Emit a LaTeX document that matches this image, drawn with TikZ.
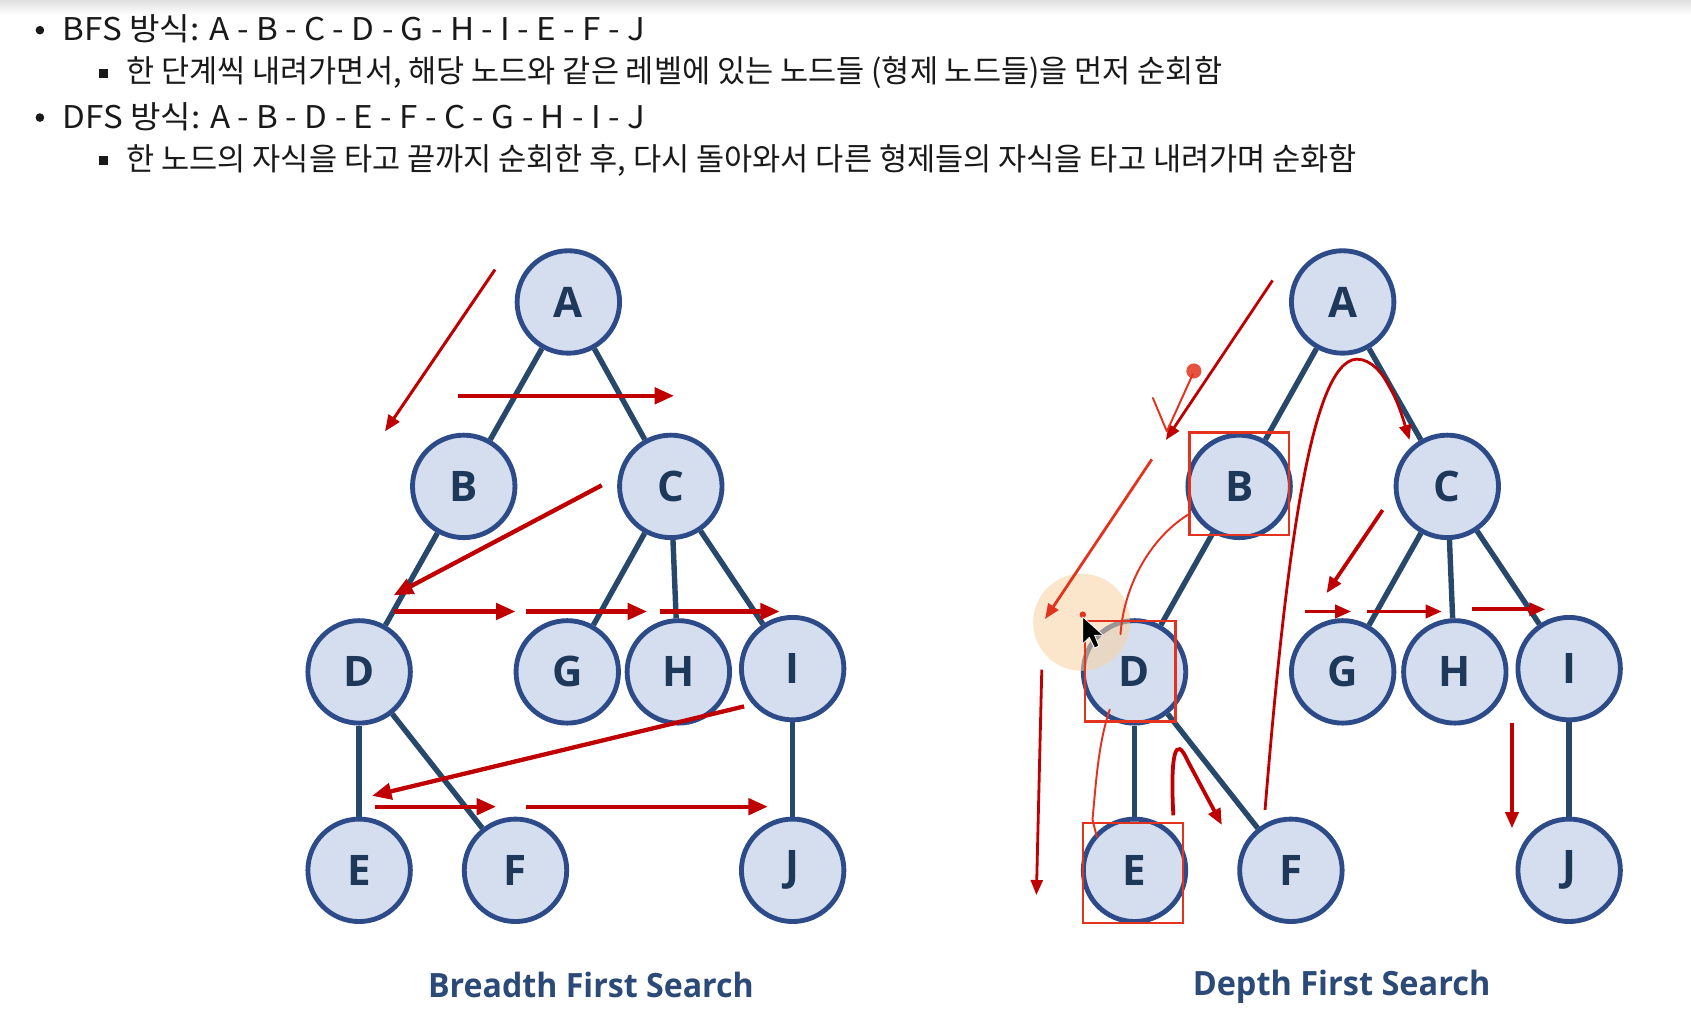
\documentclass[tikz,border=0pt]{standalone}
\usepackage{fontspec}
\setmainfont{Open Sans}
\newfontfamily\kr{Noto Sans CJK KR}
\usetikzlibrary{arrows.meta,backgrounds}
\definecolor{nodefill}{HTML}{D5DEEF}
\definecolor{nodeline}{HTML}{2C4B88}
\definecolor{edgecol}{HTML}{27486B}
\definecolor{lettercol}{HTML}{1E3859}
\definecolor{titlecol}{HTML}{2B4A78}
\definecolor{arrred}{HTML}{C00000}
\definecolor{penred}{HTML}{E3321E}
\definecolor{glow}{HTML}{F9D3A2}
\begin{document}
\begin{tikzpicture}[x=1pt,y=-1pt,
  tnode/.style={circle, draw=nodeline, line width=4.5pt, fill=nodefill, minimum size=95pt, inner sep=0pt, text=lettercol, font=\fontsize{39}{40}\selectfont\bfseries},
  tedge/.style={draw=edgecol, line width=5pt},
  bfsarrow/.style={draw=arrred, line width=4pt, -{Triangle[length=18pt,width=15pt]}},
  bfsthin/.style={draw=arrred, line width=2.8pt, -{Triangle[length=15pt,width=12pt]}},
  dfsarrow/.style={draw=arrred, line width=3.5pt, -{Triangle[length=15pt,width=12pt]}},
  dfsthin/.style={draw=arrred, line width=2.6pt, -{Triangle[length=14pt,width=11pt]}},
  pen/.style={draw=penred, line width=1.8pt, line cap=round, line join=round},
  redbox/.style={draw=penred, line width=2pt},
  hdr/.style={anchor=west, inner sep=0pt, text=black!90},
  ttl/.style={inner sep=0pt, text=titlecol, font=\fontsize{31}{32}\selectfont\bfseries}
]
\useasboundingbox (0,0) rectangle (1568,953);

% header
\fill[black!90] (37,28) circle (4);
\node[hdr] (h1) at (58,27) {\resizebox{540pt}{\height}{\kr\fontsize{29}{32}\selectfont BFS 방식: A - B - C - D - G - H - I - E - F - J}};
\fill[black!90] (92,64) rectangle (100,72);
\node[hdr] (h2) at (117,67) {\resizebox{1016pt}{\height}{\kr\fontsize{29}{32}\selectfont 한 단계씩 내려가면서, 해당 노드와 같은 레벨에 있는 노드들 (형제 노드들)을 먼저 순회함}};
\fill[black!90] (37,109) circle (4);
\node[hdr] (h3) at (58,108) {\resizebox{540pt}{\height}{\kr\fontsize{29}{32}\selectfont DFS 방식: A - B - D - E - F - C - G - H - I - J}};
\fill[black!90] (92,145) rectangle (100,153);
\node[hdr] (h4) at (117,149) {\resizebox{1141pt}{\height}{\kr\fontsize{29}{32}\selectfont 한 노드의 자식을 타고 끝까지 순회한 후, 다시 돌아와서 다른 형제들의 자식을 타고 내려가며 순화함}};

% left tree (BFS)
\node[tnode] (lA) at (527,280) {A};
\node[tnode] (lB) at (430,451) {B};
\node[tnode] (lC) at (622,451) {C};
\node[tnode] (lD) at (333,623) {D};
\node[tnode] (lG) at (526,623) {G};
\node[tnode] (lH) at (629,623) {H};
\node[tnode] (lI) at (735,620) {I};
\node[tnode] (lE) at (333,807) {E};
\node[tnode] (lF) at (478,807) {F};
\node[tnode] (lJ) at (735,807) {J};

% right tree (DFS)
\node[tnode] (rA) at (1245,280) {A};
\node[tnode] (rB) at (1149,451) {B};
\node[tnode] (rC) at (1342,451) {C};
\node[tnode] (rD) at (1052,623) {D};
\node[tnode] (rG) at (1245,623) {G};
\node[tnode] (rH) at (1349,623) {H};
\node[tnode] (rI) at (1455,620) {I};
\node[tnode] (rE) at (1052,807) {E};
\node[tnode] (rF) at (1197,807) {F};
\node[tnode] (rJ) at (1455,807) {J};

\node[ttl] (t1) at (548,913) {\resizebox{302pt}{\height}{Breadth First Search}};
\node[ttl] (t2) at (1244,915) {\resizebox{276pt}{\height}{Depth First Search}};

\begin{scope}[on background layer]
  \fill[white] (0,0) rectangle (1568,953);
  \shade[top color=black!12, bottom color=white] (0,0) rectangle (1568,14);
  \foreach \p in {l,r}{
    \draw[tedge] (\p A) -- (\p B);
    \draw[tedge] (\p A) -- (\p C);
    \draw[tedge] (\p B) -- (\p D);
    \draw[tedge] (\p C) -- (\p G);
    \draw[tedge] (\p C) -- (\p H);
    \draw[tedge] (\p C) -- (\p I);
    \draw[tedge] (\p D) -- (\p E);
    \draw[tedge] (\p D) -- (\p F);
    \draw[tedge] (\p I) -- (\p J);
  }
\end{scope}

% BFS arrows
\draw[bfsthin] (459,250) -- (357,400);
\draw[bfsarrow] (425,367) -- (625,367);
\draw[bfsarrow] (558,450) -- (365,552);
\draw[bfsarrow] (365,567) -- (478,567);
\draw[bfsarrow] (488,567) -- (600,567);
\draw[bfsarrow] (612,567) -- (723,567);
\draw[bfsarrow] (690,655) -- (345,738);
\draw[bfsarrow] (348,748) -- (460,748);
\draw[bfsarrow] (488,748) -- (712,748);

% DFS annotations
\fill[glow, opacity=0.55] (1003,577) circle (45);
\draw[redbox] (1103,401) rectangle (1195,496);
\draw[redbox] (1006,576) rectangle (1090,669);
\draw[redbox] (1004,763) rectangle (1097,856);

\draw[dfsthin] (1180,260) -- (1081,408);
\fill[penred!85!white] (1107,344) circle (7);
\draw[pen] (1069,369) -- (1082,400) -- (1106,347);
\draw[dfsthin, draw=penred] (1068,426) -- (969,574);
\draw[pen] (1102,477) .. controls (1065,500) and (1042,545) .. (1039,588);
\draw[dfsthin] (966,621) -- (961,830);
\draw[pen] (1029,658) .. controls (1018,690) and (1016,730) .. (1013,760) -- (1017,776);
\draw[dfsarrow] (1088,756) .. controls (1085,700) and (1090,680) .. (1101,705) -- (1133,765);
\draw[dfsthin] (1173,751) .. controls (1192,520) and (1215,335) .. (1258,333) .. controls (1285,333) and (1300,385) .. (1307,408);
\draw[dfsarrow] (1282,473) -- (1230,550);
\draw[dfsarrow] (1210,567) -- (1253,567);
\draw[dfsarrow] (1268,567) -- (1337,567);
\draw[dfsarrow] (1365,565) -- (1433,565);
\draw[dfsarrow] (1402,670) -- (1402,768);

% cursor
\fill[penred] (1004,570) circle (3);
\draw[fill=black, draw=white, line width=0.8pt, line join=round]
  (1004,572) -- (1004,597) -- (1010,591) -- (1015,601) -- (1019,599) -- (1015,589) -- (1023,589) -- cycle;
\end{tikzpicture}
\end{document}
